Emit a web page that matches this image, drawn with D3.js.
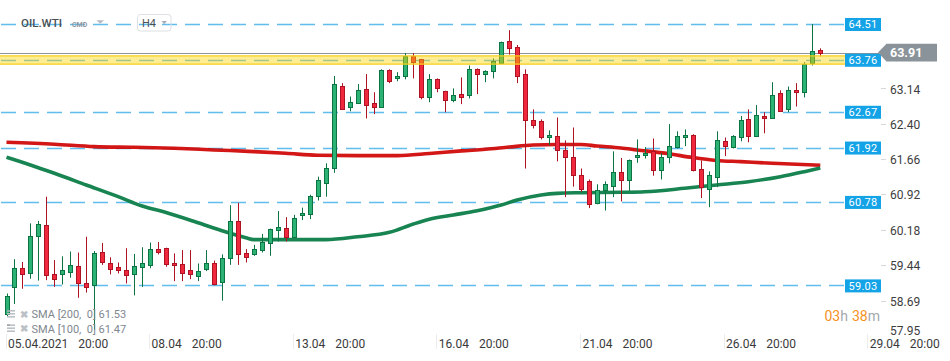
<!DOCTYPE html>
<html><head><meta charset="utf-8">
<script src="https://cdn.jsdelivr.net/npm/d3@7"></script>
<style>
html,body{margin:0;padding:0;background:#fff;}
svg{display:block;font-family:Roboto,"Noto Sans",sans-serif;}
</style></head><body>
<svg id="c" width="950" height="361"></svg>
<script>
const opens=[58.44,58.99,59.39,59.28,60.07,60.29,59.26,59.26,59.32,59.43,
59.09,59.03,59.74,59.51,59.41,59.35,59.26,59.41,59.45,59.79,
59.81,59.49,59.47,59.35,59.22,59.37,59.51,59.11,59.60,60.37,
59.70,59.68,59.77,59.91,60.19,60.23,60.05,60.50,60.52,60.90,
61.17,61.50,63.22,62.78,62.85,63.14,62.85,62.76,63.54,63.37,
63.41,63.83,63.77,62.99,63.35,63.10,62.91,63.04,63.02,63.56,
63.46,63.52,63.69,64.15,64.02,63.46,62.49,62.47,62.14,62.16,
61.86,61.72,61.34,61.21,60.75,61.04,61.11,61.40,61.23,61.72,
61.76,61.84,61.44,61.72,61.93,62.14,62.18,61.46,61.05,61.30,
62.05,61.93,62.14,62.51,62.16,62.58,62.53,63.06,62.72,63.12,
63.08,63.69,63.96];
const highs=[58.86,59.58,59.52,60.33,60.38,60.89,59.56,59.64,59.74,59.72,
60.05,59.75,59.92,59.62,59.51,59.81,59.69,59.83,59.93,59.94,
59.82,59.70,59.77,59.77,59.49,59.77,59.55,59.68,60.71,60.76,
59.79,59.88,60.11,60.22,60.59,60.46,60.51,60.66,60.93,61.31,
61.59,63.42,63.27,62.99,63.25,63.46,63.08,63.56,63.56,63.50,
63.90,63.90,63.78,63.46,63.37,63.11,63.16,63.39,63.64,63.58,
63.54,63.79,64.14,64.38,64.07,63.56,62.72,62.51,62.28,62.55,
62.07,62.34,61.48,61.25,61.15,61.21,61.84,61.70,61.67,62.09,
61.93,62.11,61.80,62.41,62.26,62.30,62.20,61.65,61.42,62.26,
62.13,62.18,62.58,62.72,62.81,62.66,63.29,63.12,63.20,63.27,
63.71,64.51,64.00];
const lows=[58.37,58.64,58.96,59.17,59.13,59.14,59.00,59.05,59.19,58.77,
58.88,58.10,59.46,59.26,59.28,59.07,58.82,59.00,59.39,59.68,
59.42,59.12,59.12,59.16,59.12,59.33,59.03,58.71,59.46,59.46,
59.51,59.65,59.72,59.65,59.95,59.95,60.04,60.40,60.42,60.81,
60.89,61.39,62.71,62.68,62.84,62.53,62.62,62.75,63.27,63.31,
63.35,63.37,62.93,62.87,63.08,62.66,62.87,62.83,62.95,63.04,
63.29,63.37,63.68,63.87,63.27,61.48,62.32,62.09,61.97,61.63,
60.88,61.10,60.99,60.65,60.73,60.60,60.88,60.79,61.01,61.60,
61.69,61.33,61.25,61.59,61.90,61.95,61.42,60.86,60.67,61.09,
61.74,61.90,62.05,62.03,62.14,62.22,62.52,62.67,62.66,62.78,
62.97,63.64,63.83];
const closes=[58.81,59.39,59.26,60.06,60.31,59.24,59.17,59.35,59.45,59.07,
59.00,59.70,59.53,59.37,59.35,59.24,59.43,59.49,59.79,59.74,
59.47,59.45,59.30,59.26,59.33,59.49,59.05,59.60,60.37,59.68,
59.62,59.79,59.95,60.21,60.25,60.05,60.44,60.54,60.90,61.24,
61.50,63.25,62.72,62.87,63.12,62.81,62.78,63.54,63.31,63.41,
63.83,63.72,62.97,63.35,63.16,62.91,63.02,62.99,63.56,63.46,
63.52,63.73,64.13,64.00,63.43,62.49,62.39,62.14,62.18,61.86,
61.72,61.34,61.06,60.73,61.04,61.15,61.40,61.23,61.65,61.76,
61.80,61.44,61.72,61.95,62.16,62.18,61.44,61.10,61.34,62.07,
61.95,62.16,62.49,62.16,62.60,62.53,63.02,62.68,63.12,63.08,
63.67,63.94,63.91];

const sma200Idx=[0,6,11,16,21,26,31,35,39,44,49,53,57,60,63,66,69,72,74,77,79,83,86,89,92,96,102];
const sma200=[62.03,61.99,61.94,61.925,61.905,61.87,61.835,61.80,61.757,61.75,61.75,61.795,61.85,61.883,61.93,61.973,61.984,61.984,61.952,61.91,61.87,61.79,61.71,61.65,61.625,61.59,61.55];
const sma100Idx=[0,3,6,10,14,17,20,24,27,30,31,35,40,44,48,51,53,56,59,62,64,67,69,72,77,80,85,89,93,97,100,102];
const sma100=[61.715,61.554,61.38,61.135,60.89,60.694,60.558,60.344,60.177,60.03,59.99,59.99,59.99,60.05,60.143,60.317,60.416,60.506,60.596,60.715,60.82,60.925,60.96,60.973,60.982,60.994,61.066,61.135,61.204,61.309,61.414,61.49];

const levels=[64.51,63.76,62.67,61.92,60.78,59.03];
const yTicks=[57.95,58.69,59.44,60.18,60.92,61.66,62.40,63.14];
const xTickIdx=[0,18,36,54,72,90,108];
const xTickDates=["05.04.2021","08.04","13.04","16.04","21.04","26.04","29.04"];
const xTickTimes=["20:00","20:00","20:00","20:00","20:00","20:00","20:00"];
const lastPrice=63.91;
const band=[63.67,63.84];
const legendNames=["SMA [200,  0]","SMA [100,  0]"];
const legendValues=[61.53,61.47];

const svg=d3.select('#c');
const x=d3.scaleLinear().domain([0,102]).range([6.5,820.3]);
const y=d3.scaleLinear().domain([59.03,64.51]).range([285.4,24]);

const GREEN_FILL="#2bb274", GREEN_LINE="#0c7442", RED_FILL="#f0283e", RED_LINE="#ad1322";

// level lines
levels.forEach(v=>{
  svg.append('line').attr('x1',1).attr('x2',845).attr('y1',Math.round(y(v))+0.5).attr('y2',Math.round(y(v))+0.5)
    .attr('stroke','#45b2ea').attr('stroke-width',1.3).attr('stroke-dasharray','15,8').attr('opacity',0.85);
});
// current price line
svg.append('line').attr('x1',0).attr('x2',879).attr('y1',Math.round(y(lastPrice))+0.5).attr('y2',Math.round(y(lastPrice))+0.5)
  .attr('stroke','#8c9399').attr('stroke-width',1);

// SMA lines
const line=d3.line().x(d=>x(d[0])).y(d=>y(d[1])).curve(d3.curveMonotoneX);
svg.append('path').datum(sma200Idx.map((t,i)=>[t,sma200[i]])).attr('d',line)
  .attr('fill','none').attr('stroke','#d10a0a').attr('stroke-width',3.6).attr('stroke-linejoin','round').attr('opacity',0.95);
svg.append('path').datum(sma100Idx.map((t,i)=>[t,sma100[i]])).attr('d',line)
  .attr('fill','none').attr('stroke','#0b7d48').attr('stroke-width',3.6).attr('stroke-linejoin','round').attr('opacity',0.95);

// candles
const cg=svg.append('g');
opens.forEach((o,i)=>{
  const c=closes[i], up=c>=o;
  const cx=Math.round(x(i));
  cg.append('line').attr('x1',cx+0.5).attr('x2',cx+0.5).attr('y1',y(highs[i])).attr('y2',y(lows[i]))
    .attr('stroke',up?GREEN_LINE:RED_LINE).attr('stroke-width',1);
  const top=Math.round(y(Math.max(o,c))), bot=Math.round(y(Math.min(o,c)));
  cg.append('rect').attr('x',cx-1.5).attr('width',4).attr('y',top+0.5).attr('height',Math.max(1,bot-top))
    .attr('fill',up?GREEN_FILL:RED_FILL).attr('stroke',up?GREEN_LINE:RED_LINE).attr('stroke-width',1);
});

// yellow band
svg.append('rect').attr('x',0).attr('width',845).attr('y',y(band[1])).attr('height',y(band[0])-y(band[1]))
  .attr('fill','#ffd400').attr('opacity',0.42);
[band[0],band[1]].forEach(v=>{
  svg.append('line').attr('x1',0).attr('x2',845).attr('y1',y(v)).attr('y2',y(v))
    .attr('stroke','#f7cf1a').attr('stroke-width',1.2);
});

// y ticks
yTicks.forEach(v=>{
  const yy=y(v);
  if(yy<330){
    svg.append('line').attr('x1',881).attr('x2',886).attr('y1',Math.round(yy)-0.5).attr('y2',Math.round(yy)-0.5).attr('stroke','#d8d8d8');
  }
  svg.append('text').attr('x',890).attr('y',Math.min(yy,331)).attr('dy','0.35em')
    .attr('font-size',12).attr('fill','#3d3d3d').text(v.toFixed(2));
});

// level boxes
levels.forEach(v=>{
  const yy=y(v);
  svg.append('rect').attr('x',845).attr('y',yy-6).attr('width',36).attr('height',13).attr('fill','#13a3e6');
  svg.append('text').attr('x',863).attr('y',yy+0.5).attr('dy','0.35em').attr('text-anchor','middle')
    .attr('font-size',11).attr('fill','#fff').attr('letter-spacing',0.3).text(v.toFixed(2));
});

// current price label
const py=y(lastPrice);
svg.append('path').attr('d',`M878,${py} L886.5,${py-8.8} L937,${py-8.8} L937,${py+8.8} L886.5,${py+8.8} Z`).attr('fill','#8a9399');
svg.append('text').attr('x',890).attr('y',py).attr('dy','0.36em').attr('font-size',12.5).attr('font-weight','bold')
  .attr('fill','#fff').text(lastPrice.toFixed(2));

// x axis labels
xTickIdx.forEach((t,k)=>{
  const tx=x(t);
  svg.append('line').attr('x1',Math.round(tx)-0.5).attr('x2',Math.round(tx)-0.5).attr('y1',334).attr('y2',349).attr('stroke','#ececec');
  const txt=svg.append('text').attr('x',Math.max(tx+1.5,7)).attr('y',347.5).attr('font-size',12).attr('fill','#3a3a3a');
  txt.append('tspan').text(xTickDates[k]);
  txt.append('tspan').attr('dx',10).text(xTickTimes[k]);
});

// countdown
const cd=svg.append('text').attr('x',880).attr('y',321).attr('text-anchor','end').attr('font-size',14);
cd.append('tspan').attr('fill','#f5921e').text('03');
cd.append('tspan').attr('fill','#a3a8ae').text('h');
cd.append('tspan').attr('fill','#f5921e').attr('dx',4).text('38');
cd.append('tspan').attr('fill','#a3a8ae').text('m');

// legend
legendNames.forEach((n,k)=>{
  const ly=314.3+k*14.4;
  [-3.5,-0.5,2.5].forEach(d=>svg.append('rect').attr('x',7).attr('y',ly+d-0.8).attr('width',8).attr('height',1.6).attr('fill','#bcc1c6'));
  svg.append('rect').attr('x',7).attr('y',ly-4.3).attr('width',3).attr('height',1.6).attr('fill','#a0a6ac');
  svg.append('text').attr('x',20).attr('y',ly).attr('dy','0.35em').attr('font-size',10).attr('font-weight','bold').attr('fill','#bcc1c6').text('✖');
  svg.append('text').attr('x',31.5).attr('y',ly).attr('dy','0.35em').attr('font-size',11).attr('fill','#80878f')
    .style('white-space','pre').text(n+' '+legendValues[k].toFixed(2));
});

// header
svg.append('text').attr('x',21).attr('y',27.3).attr('font-size',11.5).attr('font-weight',500).attr('fill','#4a4f55').text('OIL.WTI');
svg.append('text').attr('x',72).attr('y',26.8).attr('font-size',7).attr('font-weight','bold').attr('fill','#8f96a0').text('CMD');
svg.append('path').attr('d','M96.5,20.2 L104,20.2 L100.2,23.8 Z').attr('fill','#b5bac0');
svg.append('rect').attr('x',137.5).attr('y',14.5).attr('width',33.5).attr('height',16.5).attr('rx',3).attr('fill','none').attr('stroke','#dcdfe3');
svg.append('text').attr('x',142).attr('y',27).attr('font-size',11).attr('fill','#4a4f55').text('H4');
svg.append('path').attr('d','M161.5,21 L167,21 L164.2,24.2 Z').attr('fill','#aab0b6');
</script>
</body></html>
